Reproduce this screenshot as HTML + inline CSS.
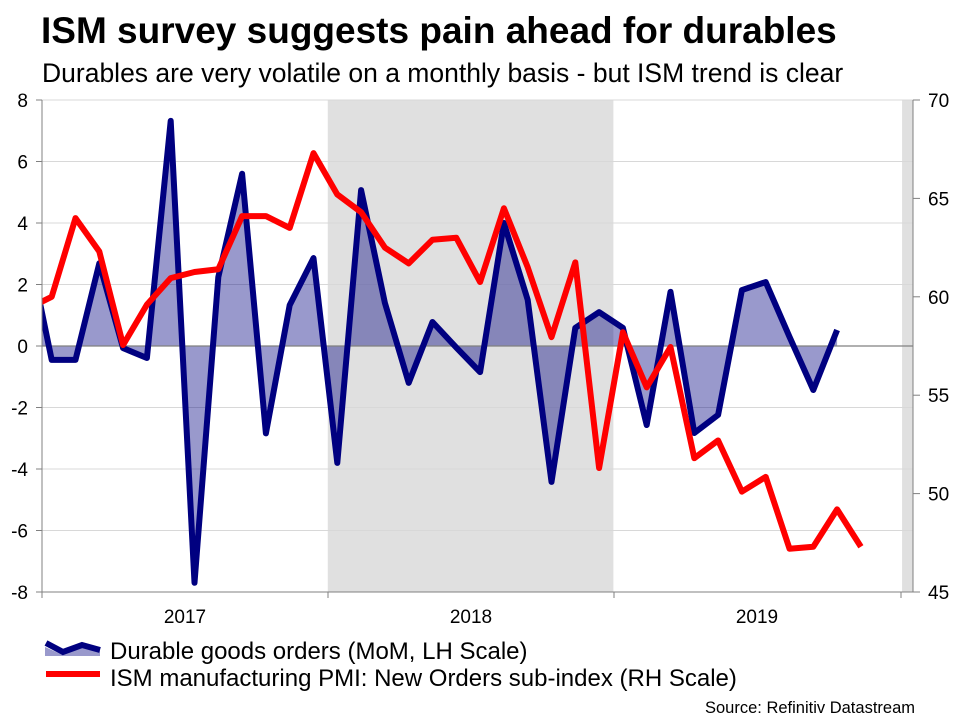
<!DOCTYPE html>
<html><head><meta charset="utf-8"><style>
body{margin:0;background:#fff;}
svg{display:block;font-family:"Liberation Sans",Arial,sans-serif;}
</style></head><body>
<svg id="c" width="960" height="720" viewBox="0 0 960 720">
<text x="41" y="43" font-size="37" font-weight="bold" fill="#000">ISM survey suggests pain ahead for durables</text>
<text x="42" y="82" font-size="26.5" fill="#000">Durables are very volatile on a monthly basis - but ISM trend is clear</text>
<g id="plot"></g>
<g>
<g>
<polygon points="45,647 63,655 82,646 100,650 100,656 45,656" fill="#9999cc"/>
<polyline points="46,643 63,652 82,645 100,650" fill="none" stroke="#000080" stroke-width="6"/>
<text x="110" y="659" font-size="24" fill="#000">Durable goods orders (MoM, LH Scale)</text>
</g>
<g>
<rect x="46" y="671" width="54" height="6" fill="#ff0000"/>
<text x="110" y="686" font-size="24" fill="#000">ISM manufacturing PMI: New Orders sub-index (RH Scale)</text>
</g>
</g>
<text x="915" y="713" font-size="16.5" text-anchor="end" fill="#000">Source: Refinitiv Datastream</text>
</svg>
<script>
const durables = [3.3,-0.45,-0.45,2.69,-0.07,-0.39,7.32,-7.7,2.24,5.6,-2.84,1.33,2.86,-3.8,5.07,1.4,-1.2,0.78,-0.05,-0.85,4.0,1.5,-4.42,0.59,1.1,0.59,-2.57,1.76,-2.83,-2.24,1.82,2.08,0.3,-1.43,0.52];
const ism = [59.4,60.0,64.0,62.3,57.55,59.6,60.95,61.26,61.4,64.1,64.1,63.5,67.3,65.2,64.3,62.5,61.7,62.9,63.0,60.75,64.5,61.5,57.95,61.75,51.3,58.2,55.4,57.45,51.8,52.7,50.1,50.85,47.2,47.3,49.2,47.3];
const leftTicks = [8,6,4,2,0,-2,-4,-6,-8];
const rightTicks = [70,65,60,55,50,45];
const years = ["2017","2018","2019"];
const shadeRanges = [[12.6,24.6],[36.73,37.3]];

const NS="http://www.w3.org/2000/svg";
const L=42,R=913,T=100,B=592;
const xIdx=i=>27.9+23.8*i;
const yL=v=>T+(8-v)*(B-T)/16;
const yR=v=>T+(70-v)*(B-T)/25;
const g=document.getElementById('plot');
function mk(t,a,p){const e=document.createElementNS(NS,t);for(const k in a)e.setAttribute(k,a[k]);(p||g).appendChild(e);return e;}
const defs=mk('defs',{});const cp=mk('clipPath',{id:'clip'},defs);mk('rect',{x:L,y:T,width:R-L,height:B-T},cp);

shadeRanges.forEach(r=>{
 const x0=xIdx(r[0]),x1=Math.min(xIdx(r[1]),R);
 const e=mk('rect',{x:x0,y:T,width:x1-x0,height:B-T,fill:'#e0e0e0'});
 
 
});
leftTicks.forEach(v=>{
 const y=yL(v);
 if(v!==8&&v!==-8&&v!==0){const gl=mk('line',{x1:L,x2:R,y1:y,y2:y,stroke:'#d8d8d8','stroke-width':1});
 
 }
 mk('line',{x1:L-6,x2:L,y1:y,y2:y,stroke:'#808080'});
 const t=mk('text',{x:28,y:y+7,'font-size':19,'text-anchor':'end',fill:'#000'});t.textContent=v;
 
 
});
mk('line',{x1:L,x2:R,y1:T,y2:T,stroke:'#d8d8d8'});
rightTicks.forEach(v=>{
 const y=yR(v);
 mk('line',{x1:R,x2:R+7,y1:y,y2:y,stroke:'#808080'});
 const t=mk('text',{x:928,y:y+7,'font-size':19,fill:'#000'});t.textContent=v;
 
 
});
const cg=mk('g',{'clip-path':'url(#clip)'});
let pts=durables.map((v,i)=>xIdx(i)+','+yL(v));
const area=mk('polygon',{points:xIdx(0)+','+yL(0)+' '+pts.join(' ')+' '+xIdx(durables.length-1)+','+yL(0),fill:'#000080','fill-opacity':0.4},cg);


mk('line',{x1:L,x2:R,y1:yL(0),y2:yL(0),stroke:'#808080','stroke-width':1.2},cg);
const dl=mk('polyline',{points:pts.join(' '),fill:'none',stroke:'#000080','stroke-width':6,'stroke-linejoin':'round'},cg);


const il=mk('polyline',{points:ism.map((v,i)=>xIdx(i)+','+yR(v)).join(' '),fill:'none',stroke:'#ff0000','stroke-width':6,'stroke-linejoin':'round'},cg);


mk('line',{x1:L,x2:L,y1:T,y2:B,stroke:'#808080'});
mk('line',{x1:R,x2:R,y1:T,y2:B,stroke:'#808080'});
mk('line',{x1:L,x2:R,y1:B,y2:B,stroke:'#808080'});
years.forEach((y,k)=>{
 const x0=L+286*k;
 mk('line',{x1:x0,x2:x0,y1:B,y2:B+6,stroke:'#808080'});
 const t=mk('text',{x:x0+143,y:623,'font-size':19,'text-anchor':'middle',fill:'#000'});t.textContent=y;
 
 
});
mk('line',{x1:L+859,x2:L+859,y1:B,y2:B+6,stroke:'#808080'});
</script>
</body></html>
